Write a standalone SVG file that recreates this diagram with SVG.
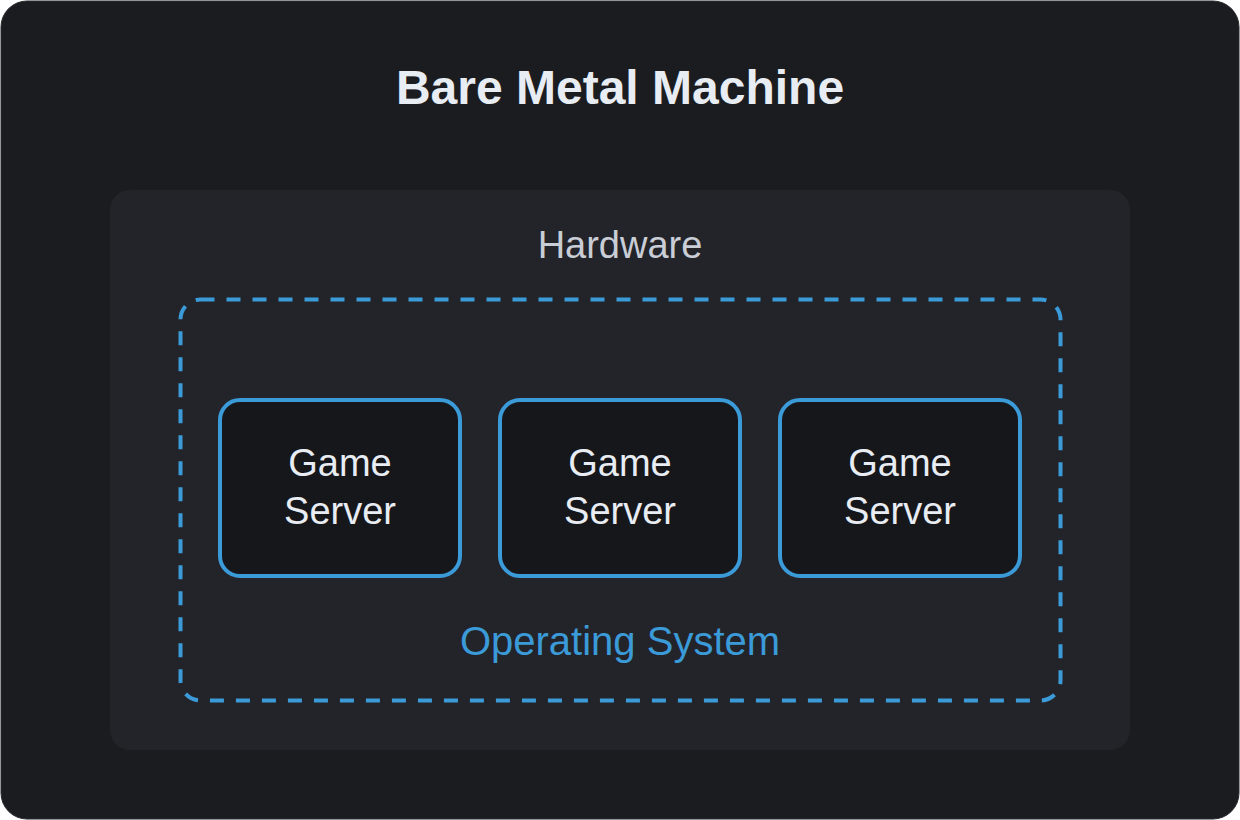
<svg xmlns="http://www.w3.org/2000/svg" width="1240" height="820" viewBox="0 0 1240 820">
<style>
.srv rect{fill:#16171b;stroke:#3b9ad8;stroke-width:4}
.srv text{font-family:"Liberation Sans",Arial,sans-serif;font-size:38px;fill:#e8ecf3;text-anchor:middle}
</style>
<rect x="0" y="0" width="1240" height="820" fill="#ffffff"/>
<g id="machine">
<rect x="1" y="1" width="1238" height="818" rx="26" fill="#1b1c20" stroke="#2a2b30" stroke-width="1"/>
<text x="620" y="104" font-family="Liberation Sans,Arial,sans-serif" font-weight="bold" font-size="48" fill="#e8ecf3" text-anchor="middle">Bare Metal Machine</text>
</g>
<g id="hardware">
<rect x="110" y="190" width="1020" height="560" rx="20" fill="#232429"/>
<text x="620" y="258" font-family="Liberation Sans,Arial,sans-serif" font-size="38" fill="#c9cdd6" text-anchor="middle">Hardware</text>
</g>
<g id="os">
<rect x="180.5" y="299.5" width="880" height="401" rx="20" fill="none" stroke="#3b9ad8" stroke-width="4" stroke-dasharray="14 12"/>
<text x="620" y="655" font-family="Liberation Sans,Arial,sans-serif" font-size="40" fill="#3b9ad8" text-anchor="middle">Operating System</text>
</g>
<g id="server1" class="srv">
<rect x="220" y="400" width="240" height="176" rx="20"/>
<text x="340" y="476">Game</text>
<text x="340" y="524">Server</text>
</g>
<g id="server2" class="srv">
<rect x="500" y="400" width="240" height="176" rx="20"/>
<text x="620" y="476">Game</text>
<text x="620" y="524">Server</text>
</g>
<g id="server3" class="srv">
<rect x="780" y="400" width="240" height="176" rx="20"/>
<text x="900" y="476">Game</text>
<text x="900" y="524">Server</text>
</g>
<g id="connectors"></g>
</svg>
